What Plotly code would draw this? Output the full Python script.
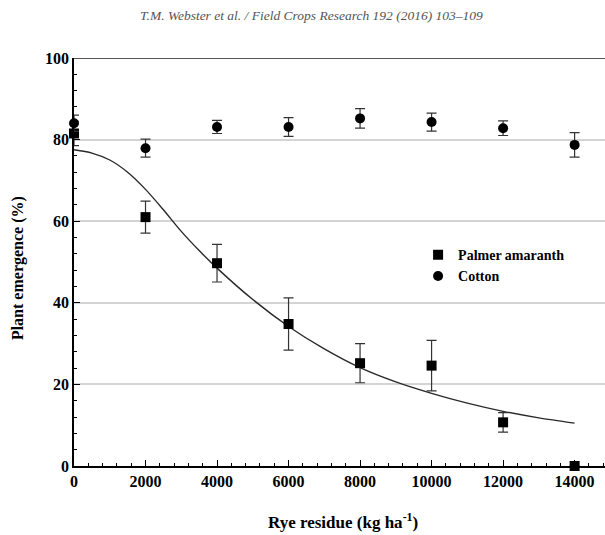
import plotly.graph_objects as go

# ---- data ----
residue = [0, 2000, 4000, 6000, 8000, 10000, 12000, 14000]

palmer = [81.5, 61.0, 49.7, 34.8, 25.2, 24.6, 10.7, 0.0]
palmer_err = [3.0, 3.9, 4.6, 6.4, 4.8, 6.2, 2.4, 0.0]

cotton = [84.0, 77.9, 83.1, 83.1, 85.2, 84.3, 82.8, 78.7]
cotton_err = [2.0, 2.2, 1.6, 2.3, 2.4, 2.2, 1.8, 3.0]

fit_x = [0, 500, 1000, 1500, 2000, 2500, 3000, 3500, 4000, 5000, 6000, 7000,
         8000, 9000, 10000, 11000, 12000, 13000, 14000]
fit_y = [77.5, 76.7, 75.0, 72.0, 67.8, 62.8, 57.5, 52.8, 48.5, 40.8, 34.2, 28.7,
         24.1, 20.6, 17.8, 15.4, 13.4, 11.8, 10.5]

x_ticks = [0, 2000, 4000, 6000, 8000, 10000, 12000, 14000]
y_ticks = [0, 20, 40, 60, 80, 100]

SERIF = "Liberation Serif"

fig = go.Figure()

fig.add_trace(go.Scatter(
    x=fit_x, y=fit_y, mode="lines", line=dict(color="#2a2a2a", width=1.4, shape="spline", smoothing=0.8),
    showlegend=False, hoverinfo="skip"))

fig.add_trace(go.Scatter(
    x=residue, y=palmer, mode="markers", name="Palmer amaranth",
    marker=dict(symbol="square", size=10, color="black"),
    error_y=dict(type="data", array=palmer_err, color="#333333", thickness=1.2, width=5),
    cliponaxis=False))

fig.add_trace(go.Scatter(
    x=residue, y=cotton, mode="markers", name="Cotton",
    marker=dict(symbol="circle", size=10, color="black"),
    error_y=dict(type="data", array=cotton_err, color="#333333", thickness=1.2, width=5),
    cliponaxis=False))

fig.update_layout(
    width=605, height=535,
    margin=dict(l=74, r=0, t=58, b=69),
    paper_bgcolor="white", plot_bgcolor="white",
    font=dict(family=SERIF, size=15, color="black"),
    legend=dict(x=0.648, y=0.556, xanchor="left", yanchor="top",
                bgcolor="rgba(0,0,0,0)",
                font=dict(family=SERIF, size=14, weight="bold")),
    xaxis=dict(range=[0, 14850], tickvals=x_ticks, ticktext=[str(v) for v in x_ticks],
               showgrid=False, zeroline=False,
               showline=True, linecolor="black", linewidth=1.5, mirror=False,
               ticks="inside", ticklen=6, tickwidth=1.2, tickcolor="black",
               minor=dict(dtick=400, ticks="inside", ticklen=3, tickcolor="black", showgrid=False),
               tickfont=dict(family=SERIF, size=16, weight="bold")),
    yaxis=dict(range=[0, 100], tickvals=y_ticks, ticktext=[str(v) for v in y_ticks],
               showgrid=True, gridcolor="#d4d4d4", gridwidth=1.5, zeroline=False,
               showline=True, linecolor="black", linewidth=1.5,
               ticks="inside", ticklen=6, tickwidth=1.2, tickcolor="black",
               minor=dict(dtick=4, ticks="inside", ticklen=3, tickcolor="black", showgrid=False),
               tickfont=dict(family=SERIF, size=16, weight="bold")),
    shapes=[dict(type="line", xref="paper", yref="y", x0=0, x1=1, y0=100, y1=100,
                 line=dict(color="#555555", width=2))],
    annotations=[
        dict(text="T.M. Webster et al. / Field Crops Research 192 (2016) 103–109",
             xref="paper", yref="paper", x=0.448, y=1.103, xanchor="center", yanchor="middle",
             showarrow=False, font=dict(family=SERIF, size=13.5, color="#555555", style="italic")),
        dict(text="Rye residue (kg ha<sup>-1</sup>)", xref="paper", yref="paper",
             x=0.506, y=-0.1348, xanchor="center", yanchor="middle", showarrow=False,
             font=dict(family=SERIF, size=17, weight="bold")),
        dict(text="Plant emergence (%)", xref="paper", yref="paper",
             x=-0.1055, y=0.485, xanchor="center", yanchor="middle", textangle=-90,
             showarrow=False, font=dict(family=SERIF, size=16, weight="bold")),
    ],
)

fig.write_html("out.html")
